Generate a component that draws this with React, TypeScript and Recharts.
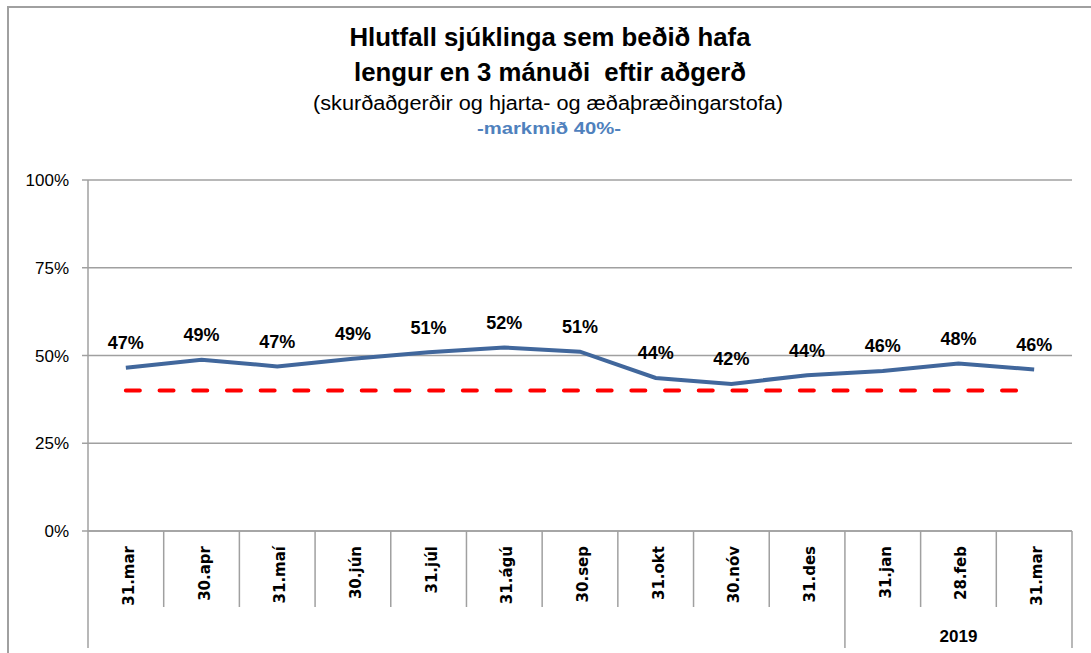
import React from 'react';
import { LineChart, Line, XAxis, YAxis, CartesianGrid } from 'recharts';

const categories = ['31.mar', '30.apr', '31.maí', '30.jún', '31.júl', '31.ágú', '30.sep', '31.okt', '30.nóv', '31.des', '31.jan', '28.feb', '31.mar'];
const share = [46.5, 48.8, 46.9, 49.1, 50.9, 52.3, 51.1, 43.6, 41.9, 44.4, 45.6, 47.7, 46.0];
const target = [40, 40, 40, 40, 40, 40, 40, 40, 40, 40, 40, 40, 40];
const yTicks = [0, 25, 50, 75, 100];
const yearGroups = [
  { label: '', from: 0, to: 9 },
  { label: '2019', from: 10, to: 12 },
];
const titleLines = ['Hlutfall sjúklinga sem beðið hafa', 'lengur en 3 mánuði  eftir aðgerð'];
const subtitle = '(skurðaðgerðir og hjarta- og æðaþræðingarstofa)';
const goalText = '-markmið 40%-';

const W = 1091;
const H = 653;
const MARGIN = { top: 180, right: 19, bottom: 0, left: 0 };
const YAXIS_W = 88;
const XAXIS_H = 122;
const PLOT_BOTTOM = H - XAXIS_H;
const BAND = (W - MARGIN.right - MARGIN.left - YAXIS_W) / categories.length;
const SHORT_BOTTOM = 607;
const LONG_BOTTOM = 648;
const GRAY = '#a0a0a0';
const TITLE_FONT = 'Liberation Sans';

const data = categories.map((c, i) => ({ cat: c, share: share[i], target: target[i] }));

function CategoryTick(props: any) {
  const { x, payload } = props;
  const i = props.index !== undefined ? props.index : payload.index;
  const left = x - BAND / 2;
  const right = x + BAND / 2;
  const group = yearGroups.find((g) => g.from === i);
  const last = i === categories.length - 1;
  return (
    <g>
      <line x1={left} x2={left} y1={PLOT_BOTTOM} y2={group ? LONG_BOTTOM : SHORT_BOTTOM} stroke={GRAY} strokeWidth={1.5} />
      {last && <line x1={right} x2={right} y1={PLOT_BOTTOM} y2={LONG_BOTTOM} stroke={GRAY} strokeWidth={1.5} />}
      <text
        transform={`translate(${x + 8},${PLOT_BOTTOM + 15}) rotate(-90)`}
        textAnchor="end"
        fontFamily="DejaVu Sans"
        fontWeight="bold"
        fontSize={15}
        fill="#000"
      >
        {payload.value}
      </text>
      {group && group.label && (
        <text
          x={left + ((group.to - group.from + 1) * BAND) / 2}
          y={642}
          textAnchor="middle"
          fontFamily="Liberation Sans"
          fontWeight="bold"
          fontSize={17}
          fill="#000"
        >
          {group.label}
        </text>
      )}
    </g>
  );
}

function ValueLabel(props: any) {
  const { x, y, value } = props;
  if (x == null || y == null) return null;
  return (
    <text
      x={x}
      y={y - 25}
      dy="0.36em"
      textAnchor="middle"
      fontFamily="Liberation Sans"
      fontWeight="bold"
      fontSize={18}
      fill="#000"
    >
      {Math.round(value)}%
    </text>
  );
}

export default function App() {
  return (
    <div style={{ position: 'absolute', left: 0, top: 0, width: W, height: H, background: '#fff' }}>
      <LineChart width={W} height={H} data={data} margin={MARGIN}>
        <CartesianGrid horizontal vertical={false} stroke={GRAY} strokeWidth={1.5} />
        <XAxis
          dataKey="cat"
          height={XAXIS_H}
          padding={{ left: BAND / 2, right: BAND / 2 }}
          axisLine={{ stroke: GRAY, strokeWidth: 1.5 }}
          tickLine={false}
          interval={0}
          tick={(p: any) => <CategoryTick {...p} />}
        />
        <YAxis
          width={YAXIS_W}
          domain={[0, 100]}
          ticks={yTicks}
          tickFormatter={(v: number) => `${v}%`}
          axisLine={{ stroke: GRAY, strokeWidth: 1.5 }}
          tickLine={{ stroke: GRAY, strokeWidth: 1.5 }}
          tickSize={6}
          tickMargin={13}
          tick={{ fontFamily: 'Liberation Sans', fontSize: 17, fill: '#000' }}
        />
        <Line
          dataKey="target"
          stroke="#ff0000"
          strokeWidth={4}
          strokeDasharray="14 19.7"
          strokeLinecap="round"
          dot={false}
          activeDot={false}
          isAnimationActive={false}
        />
        <Line
          dataKey="share"
          stroke="#41679c"
          strokeWidth={4}
          dot={false}
          activeDot={false}
          label={(p: any) => <ValueLabel {...p} />}
          isAnimationActive={false}
        />
      </LineChart>
      <svg width={W} height={H} style={{ position: 'absolute', left: 0, top: 0, pointerEvents: 'none' }}>
        <line x1={8} x2={W} y1={7} y2={7} stroke={GRAY} strokeWidth={2} />
        <line x1={8} x2={8} y1={6} y2={H} stroke={GRAY} strokeWidth={2} />
        <text x={550} y={46} textAnchor="middle" fontFamily={TITLE_FONT} fontWeight="bold" fontSize={26} fill="#000" textLength={401} lengthAdjust="spacingAndGlyphs">
          {titleLines[0]}
        </text>
        <text x={550} y={81} textAnchor="middle" fontFamily={TITLE_FONT} fontWeight="bold" fontSize={26} fill="#000" textLength={392} lengthAdjust="spacingAndGlyphs" style={{ whiteSpace: 'pre' }}>
          {titleLines[1]}
        </text>
        <text x={548} y={110} textAnchor="middle" fontFamily={TITLE_FONT} fontSize={20} fill="#000" textLength={470} lengthAdjust="spacingAndGlyphs">
          {subtitle}
        </text>
        <text x={549} y={134} textAnchor="middle" fontFamily={TITLE_FONT} fontWeight="bold" fontSize={17} fill="#4f81bd" textLength={144} lengthAdjust="spacingAndGlyphs">
          {goalText}
        </text>
      </svg>
    </div>
  );
}
